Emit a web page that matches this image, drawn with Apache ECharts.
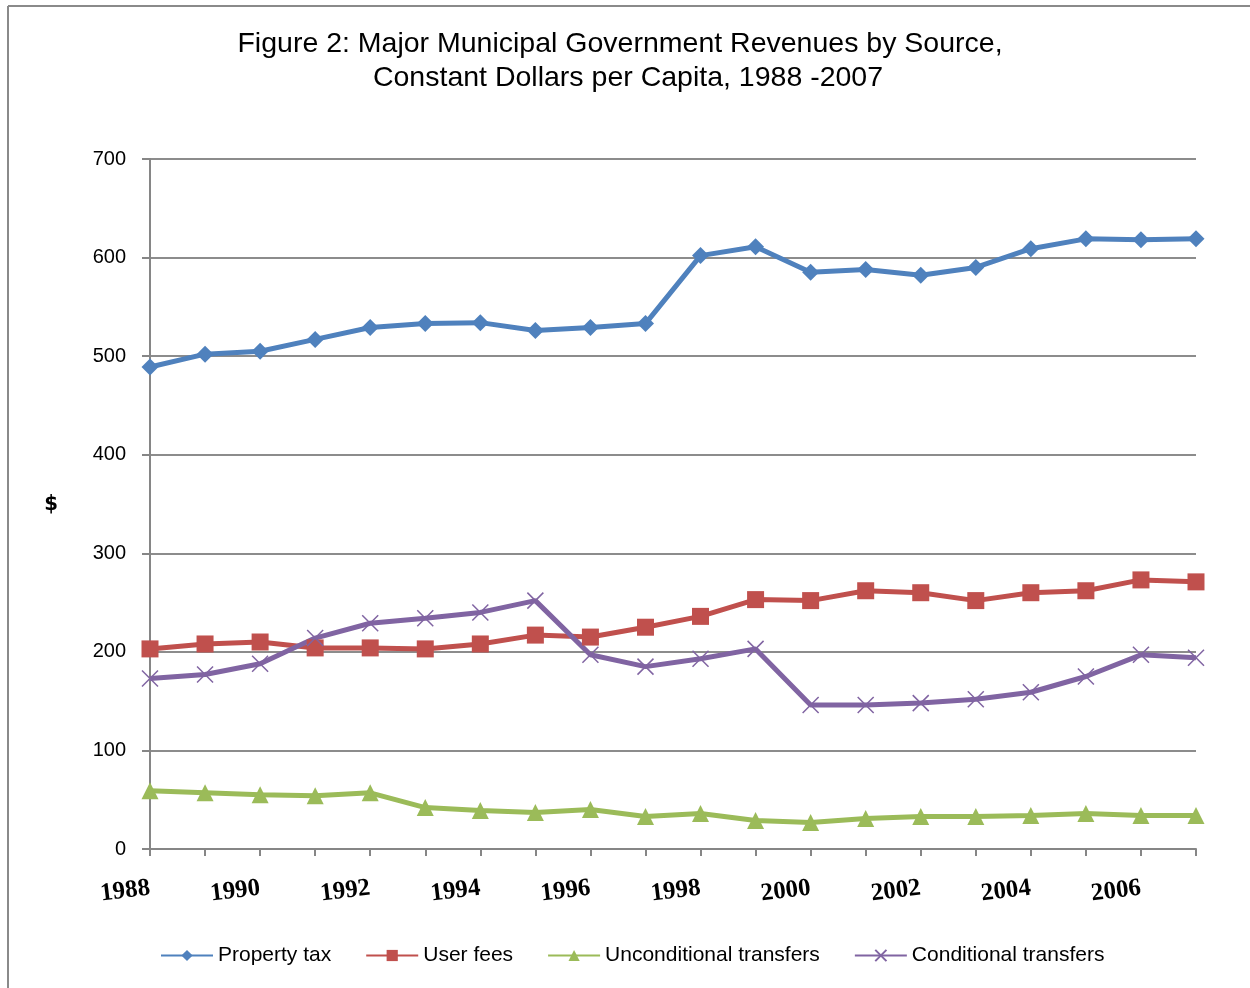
<!DOCTYPE html>
<html>
<head>
<meta charset="utf-8">
<script src="https://cdn.jsdelivr.net/npm/echarts@6/dist/echarts.min.js"></script>
<style>
html,body{margin:0;padding:0;background:#fff;}
#chart{width:1250px;height:988px;}
</style>
</head>
<body>
<div id="chart"></div>
<script>
const years = ['1988','1989','1990','1991','1992','1993','1994','1995','1996','1997','1998','1999','2000','2001','2002','2003','2004','2005','2006','2007'];
const propertyTax = [489,502,505,517,529,533,534,526,529,533,602,611,585,588,582,590,609,619,618,619];
const userFees = [203,208,210,204,204,203,208,217,215,225,236,253,252,262,260,252,260,262,273,271];
const unconditionalTransfers = [59,57,55,54,57,42,39,37,40,33,36,29,27,31,33,33,34,36,34,34];
const conditionalTransfers = [173,177,188,214,229,234,240,252,197,185,193,203,146,146,148,152,159,175,197,194];
const yTicks = [0,100,200,300,400,500,600,700];
const titleLine1 = 'Figure 2: Major Municipal Government Revenues by Source,';
const titleLine2 = 'Constant Dollars per Capita, 1988 -2007';

const chart = echarts.init(document.getElementById('chart'));
const xPath = 'path://M0,0L10,10M10,0L0,10';
const titleFont = {fontFamily: 'Liberation Sans', fontWeight: 'normal', fontSize: 28.5, color: '#000'};
chart.setOption({
  backgroundColor: '#fff',
  animation: false,
  title: [
    {text: titleLine1, left: 620, top: 30, textAlign: 'center', padding: 0, textStyle: titleFont},
    {text: titleLine2, left: 628, top: 64, textAlign: 'center', padding: 0, textStyle: titleFont}
  ],
  graphic: [
    {type: 'line', shape: {x1: 8, y1: 6, x2: 1250, y2: 6}, style: {stroke: '#8a8a8a', lineWidth: 2}},
    {type: 'line', shape: {x1: 8, y1: 6, x2: 8, y2: 988}, style: {stroke: '#8a8a8a', lineWidth: 2}}
  ],
  legend: {
    bottom: 17, left: 155,
    itemWidth: 52, itemHeight: 14, itemGap: 34,
    textStyle: {fontFamily: 'Liberation Sans', fontSize: 21, color: '#000'},
    data: ['Property tax','User fees','Unconditional transfers','Conditional transfers']
  },
  grid: {left: 150, right: 54, top: 159, bottom: 139, containLabel: false},
  xAxis: {
    type: 'category', data: years, boundaryGap: false,
    axisLine: {lineStyle: {color: '#868686', width: 2}},
    axisTick: {interval: 0, length: 7, lineStyle: {color: '#868686', width: 2}},
    axisLabel: {interval: 1, rotate: 7, margin: 39, fontFamily: 'Liberation Serif', fontWeight: 'bold', fontSize: 25, color: '#000'}
  },
  yAxis: {
    type: 'value', min: 0, max: 700, interval: 100,
    name: '$', nameLocation: 'middle', nameRotate: 0, nameGap: 92,
    nameTextStyle: {fontFamily: "'Liberation Sans Narrow', 'DejaVu Sans Condensed', 'Liberation Sans'", fontWeight: 'bold', fontSize: 22, color: '#000'},
    axisLine: {show: true, lineStyle: {color: '#868686', width: 2}},
    axisTick: {show: true, length: 8, lineStyle: {color: '#868686', width: 2}},
    splitLine: {lineStyle: {color: '#8c8c8c', width: 2}},
    axisLabel: {margin: 24, fontFamily: 'Liberation Sans', fontSize: 20, color: '#000',
      formatter: v => yTicks.includes(v) ? String(v) : ''}
  },
  series: [
    {name: 'Property tax', type: 'line', data: propertyTax, symbol: 'diamond', symbolSize: 17,
      lineStyle: {color: '#4F81BD', width: 5}, itemStyle: {color: '#4F81BD'}},
    {name: 'User fees', type: 'line', data: userFees, symbol: 'rect', symbolSize: 17,
      lineStyle: {color: '#C0504D', width: 5}, itemStyle: {color: '#C0504D'}},
    {name: 'Unconditional transfers', type: 'line', data: unconditionalTransfers, symbol: 'triangle', symbolSize: 17,
      lineStyle: {color: '#9BBB59', width: 5}, itemStyle: {color: '#9BBB59'}},
    {name: 'Conditional transfers', type: 'line', data: conditionalTransfers, symbol: xPath, symbolSize: 16,
      lineStyle: {color: '#8064A2', width: 5}, itemStyle: {color: 'rgba(0,0,0,0)', borderColor: '#8064A2', borderWidth: 1.5}}
  ]
});
</script>
</body>
</html>
